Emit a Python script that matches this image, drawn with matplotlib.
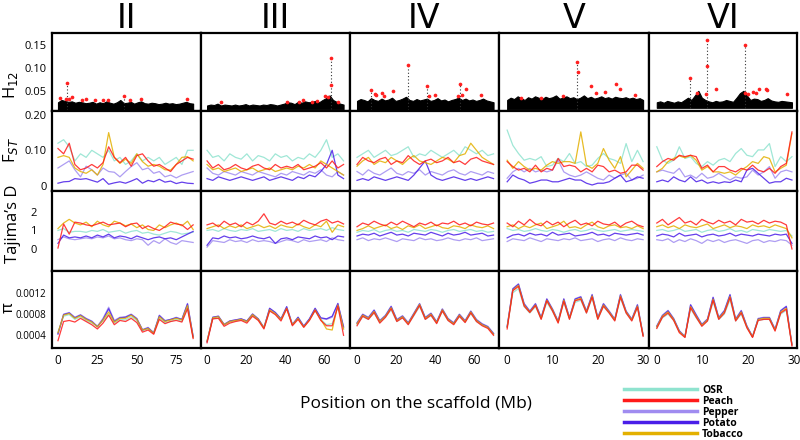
import numpy as np
import matplotlib
matplotlib.use("Agg")
import matplotlib.pyplot as plt
from matplotlib.lines import Line2D

plt.rcParams['font.family'] = ['Open Sans', 'DejaVu Sans']

chromosomes = ["II", "III", "IV", "V", "VI"]
scaffold_end = [86, 70, 70, 30, 29.5]
species = ["OSR", "Peach", "Pepper", "Potato", "Tobacco"]
colors = {"OSR": "#8fe3cf", "Peach": "#ff1a1a", "Pepper": "#a08cf0",
          "Potato": "#4a1ee8", "Tobacco": "#e3b000"}

# ---------------- H12 ----------------
h12_band_top_II = [0.025,0.03,0.028,0.026,0.027,0.024,0.026,0.025,0.023,0.024,0.026,0.022,0.025,0.023,0.027,0.024,0.022,0.025,0.03,0.023,0.024,0.026,0.022,0.025,0.027,0.023,0.022,0.024,0.023,0.021,0.022,0.024,0.022,0.023,0.021,0.022,0.024,0.026,0.023,0.022]
h12_band_top_III = [0.018,0.02,0.019,0.022,0.018,0.02,0.019,0.018,0.02,0.018,0.019,0.021,0.018,0.02,0.019,0.018,0.02,0.019,0.021,0.02,0.018,0.02,0.022,0.025,0.024,0.021,0.026,0.024,0.027,0.025,0.026,0.028,0.025,0.03,0.034,0.04,0.03,0.026,0.022,0.02]
h12_band_top_IV = [0.028,0.032,0.03,0.027,0.034,0.03,0.028,0.033,0.029,0.031,0.035,0.028,0.03,0.033,0.037,0.03,0.028,0.032,0.029,0.031,0.033,0.028,0.03,0.034,0.029,0.031,0.027,0.03,0.032,0.035,0.03,0.033,0.029,0.031,0.028,0.03,0.033,0.029,0.027,0.025]
h12_band_top_V = [0.03,0.035,0.032,0.038,0.034,0.03,0.036,0.033,0.038,0.035,0.032,0.037,0.034,0.036,0.04,0.033,0.035,0.038,0.034,0.036,0.032,0.035,0.04,0.034,0.037,0.033,0.035,0.038,0.034,0.036,0.033,0.037,0.035,0.034,0.036,0.033,0.035,0.032,0.034,0.03]
h12_band_top_VI = [0.025,0.027,0.024,0.028,0.026,0.024,0.027,0.025,0.03,0.035,0.03,0.04,0.05,0.035,0.03,0.027,0.025,0.028,0.026,0.027,0.03,0.028,0.026,0.035,0.045,0.05,0.04,0.03,0.033,0.032,0.028,0.03,0.034,0.029,0.027,0.026,0.028,0.027,0.026,0.025]
h12_band_low = [0.009, 0.010, 0.009, 0.010, 0.013]

h12_spike_pos = [[5.5, 42], [63.5], [7.2, 26.3, 36, 53], [15.5], [7.3, 11, 19.2]]
h12_spike_top = [[0.068, 0.038], [0.122], [0.052, 0.106, 0.061, 0.065], [0.113], [0.079, 0.161, 0.149]]

h12_red_pos_II = [1.3, 5.5, 5, 7, 9.2, 15, 17.8, 23.6, 28.5, 32, 42, 46, 52.7, 82.4]
h12_red_val_II = [0.034, 0.068, 0.032, 0.032, 0.036, 0.03, 0.033, 0.03, 0.029, 0.03, 0.038, 0.03, 0.032, 0.032]
h12_red_pos_III = [7, 41, 47, 49, 53.7, 56.4, 60.5, 62, 63.5, 63.8, 67]
h12_red_val_III = [0.026, 0.026, 0.025, 0.029, 0.026, 0.028, 0.038, 0.036, 0.063, 0.122, 0.026]
h12_red_pos_IV = [7.2, 9, 9.8, 12.8, 14, 18.5, 26.3, 36, 37, 40, 52, 53, 54, 56, 63.6]
h12_red_val_IV = [0.052, 0.042, 0.041, 0.046, 0.039, 0.05, 0.106, 0.061, 0.039, 0.041, 0.039, 0.065, 0.04, 0.054, 0.041]
h12_red_pos_V = [3, 7.5, 12.3, 15.5, 15.6, 18.5, 19.5, 21.7, 24, 25, 28.3]
h12_red_val_V = [0.034, 0.035, 0.038, 0.113, 0.091, 0.06, 0.045, 0.048, 0.065, 0.055, 0.04]
h12_red_pos_VI = [7.3, 8.7, 10.7, 11, 10.9, 13, 19.2, 19.3, 20, 21, 21.7, 22.4, 23.9, 24.1, 28.5]
h12_red_val_VI = [0.079, 0.046, 0.043, 0.104, 0.161, 0.054, 0.149, 0.046, 0.044, 0.047, 0.046, 0.053, 0.054, 0.051, 0.044]

# ---------------- FST ----------------
fst_II_osr = [0.12,0.13,0.11,0.07,0.09,0.08,0.10,0.09,0.08,0.10,0.07,0.08,0.06,0.07,0.09,0.07,0.08,0.07,0.08,0.06,0.07,0.08,0.06,0.10,0.10]
fst_II_peach = [0.105,0.09,0.12,0.06,0.045,0.05,0.06,0.05,0.065,0.11,0.08,0.065,0.08,0.055,0.085,0.09,0.07,0.055,0.06,0.05,0.04,0.06,0.07,0.08,0.075]
fst_II_pepper = [0.05,0.06,0.07,0.045,0.025,0.055,0.045,0.03,0.05,0.04,0.038,0.025,0.04,0.054,0.065,0.045,0.05,0.035,0.04,0.025,0.03,0.022,0.03,0.035,0.04]
fst_II_potato = [0.007,0.011,0.012,0.02,0.018,0.02,0.015,0.01,0.02,0.004,0.008,0.011,0.007,0.013,0.02,0.007,0.015,0.011,0.018,0.01,0.013,0.006,0.01,0.007,0.006]
fst_II_tobacco = [0.08,0.085,0.08,0.05,0.04,0.035,0.045,0.03,0.06,0.15,0.08,0.063,0.075,0.063,0.09,0.068,0.055,0.06,0.055,0.045,0.044,0.06,0.08,0.082,0.07]

fst_III_osr = [0.1,0.08,0.085,0.07,0.09,0.08,0.075,0.09,0.07,0.085,0.08,0.07,0.09,0.08,0.085,0.07,0.08,0.075,0.09,0.08,0.1,0.13,0.08,0.09,0.07]
fst_III_peach = [0.07,0.05,0.06,0.045,0.05,0.06,0.05,0.045,0.055,0.06,0.05,0.045,0.06,0.05,0.055,0.05,0.06,0.045,0.05,0.055,0.065,0.05,0.07,0.05,0.06]
fst_III_pepper = [0.05,0.035,0.03,0.04,0.035,0.03,0.04,0.035,0.03,0.04,0.035,0.03,0.025,0.035,0.03,0.04,0.035,0.03,0.04,0.035,0.045,0.03,0.025,0.04,0.03]
fst_III_potato = [0.02,0.015,0.025,0.02,0.015,0.02,0.025,0.02,0.015,0.02,0.025,0.015,0.02,0.025,0.02,0.015,0.025,0.02,0.03,0.025,0.04,0.06,0.1,0.03,0.02]
fst_III_tobacco = [0.06,0.045,0.05,0.04,0.045,0.05,0.04,0.045,0.05,0.04,0.045,0.05,0.04,0.045,0.05,0.045,0.055,0.05,0.06,0.05,0.07,0.06,0.05,0.04,0.03]

fst_IV_osr = [0.08,0.09,0.1,0.08,0.09,0.1,0.085,0.09,0.1,0.11,0.08,0.09,0.085,0.1,0.09,0.08,0.09,0.1,0.085,0.11,0.1,0.09,0.1,0.085,0.09]
fst_IV_peach = [0.06,0.08,0.07,0.065,0.075,0.08,0.06,0.07,0.065,0.085,0.07,0.06,0.07,0.075,0.065,0.07,0.08,0.065,0.07,0.06,0.075,0.08,0.07,0.065,0.06]
fst_IV_pepper = [0.04,0.03,0.045,0.035,0.03,0.04,0.05,0.035,0.03,0.04,0.035,0.045,0.03,0.04,0.035,0.03,0.04,0.045,0.035,0.03,0.04,0.035,0.03,0.04,0.035]
fst_IV_potato = [0.015,0.02,0.015,0.025,0.02,0.015,0.02,0.025,0.02,0.015,0.03,0.05,0.07,0.03,0.02,0.015,0.02,0.025,0.02,0.015,0.02,0.015,0.02,0.025,0.02]
fst_IV_tobacco = [0.055,0.07,0.08,0.06,0.07,0.065,0.08,0.07,0.06,0.075,0.085,0.07,0.065,0.06,0.07,0.08,0.075,0.065,0.085,0.09,0.12,0.1,0.08,0.07,0.06]

fst_V_osr = [0.157,0.114,0.091,0.072,0.077,0.072,0.082,0.054,0.058,0.077,0.068,0.091,0.063,0.068,0.054,0.058,0.077,0.091,0.077,0.072,0.063,0.119,0.068,0.1,0.068]
fst_V_peach = [0.068,0.054,0.044,0.049,0.039,0.058,0.039,0.049,0.044,0.077,0.054,0.058,0.054,0.039,0.049,0.039,0.058,0.054,0.039,0.044,0.035,0.039,0.058,0.058,0.044]
fst_V_pepper = [0.021,0.039,0.049,0.039,0.049,0.039,0.044,0.039,0.044,0.072,0.039,0.03,0.025,0.03,0.039,0.03,0.021,0.016,0.03,0.021,0.03,0.035,0.016,0.021,0.03]
fst_V_potato = [0.011,0.03,0.021,0.016,0.007,0.011,0.016,0.016,0.011,0.011,0.016,0.021,0.016,0.016,0.007,0.002,0.007,0.007,0.011,0.021,0.03,0.011,0.016,0.025,0.021]
fst_V_tobacco = [0.072,0.049,0.068,0.054,0.044,0.049,0.044,0.058,0.068,0.063,0.068,0.068,0.063,0.152,0.058,0.049,0.063,0.105,0.072,0.049,0.082,0.025,0.044,0.063,0.049]

fst_VI_osr = [0.11,0.072,0.063,0.072,0.11,0.077,0.082,0.063,0.054,0.068,0.058,0.072,0.077,0.068,0.091,0.105,0.086,0.082,0.101,0.101,0.119,0.054,0.082,0.068,0.082]
fst_VI_peach = [0.054,0.068,0.077,0.072,0.086,0.082,0.086,0.082,0.049,0.058,0.039,0.054,0.054,0.044,0.039,0.049,0.044,0.058,0.044,0.039,0.049,0.035,0.054,0.063,0.152]
fst_VI_pepper = [0.039,0.044,0.039,0.035,0.049,0.025,0.03,0.021,0.035,0.021,0.025,0.035,0.025,0.016,0.025,0.021,0.025,0.044,0.03,0.039,0.054,0.021,0.039,0.044,0.039]
fst_VI_potato = [0.011,0.016,0.011,0.025,0.016,0.011,0.025,0.011,0.016,0.007,0.011,0.007,0.011,0.009,0.016,0.011,0.044,0.049,0.035,0.021,0.007,0.011,0.011,0.021,0.016]
fst_VI_tobacco = [0.039,0.049,0.068,0.077,0.084,0.079,0.086,0.072,0.044,0.054,0.039,0.039,0.035,0.039,0.03,0.044,0.054,0.068,0.063,0.082,0.077,0.039,0.049,0.058,0.148]

# ---------------- Tajima's D ----------------
taj_II_osr = [1.0,1.1,0.9,0.95,0.95,0.9,1.0,0.95,1.05,0.9,0.95,1.0,0.85,0.95,1.0,0.85,0.9,0.8,0.75,0.85,0.95,0.9,0.8,0.85,0.9]
taj_II_peach = [0.05,1.35,0.8,1.45,1.4,1.3,1.25,1.35,1.45,1.3,1.35,1.4,1.2,1.35,1.4,1.1,1.25,1.1,1.0,1.2,1.45,1.35,1.3,1.05,1.3]
taj_II_pepper = [0.5,0.65,0.55,0.5,0.55,0.6,0.55,0.65,0.6,0.7,0.55,0.6,0.5,0.45,0.55,0.5,0.2,0.45,0.3,0.55,0.35,0.25,0.45,0.4,0.35]
taj_II_potato = [0.3,0.75,0.6,0.65,0.6,0.7,0.6,0.75,0.65,0.8,0.6,0.7,0.65,0.55,0.7,0.6,0.5,0.6,0.65,0.55,0.6,0.5,0.65,0.8,0.95]
taj_II_tobacco = [1.1,1.4,1.6,1.4,1.3,1.45,1.2,1.5,1.3,1.2,1.5,1.4,1.25,1.35,1.15,1.3,1.05,1.0,1.3,1.15,1.3,1.4,1.25,1.5,1.05]

taj_III_osr = [1.0,1.05,0.95,1.1,1.0,0.95,1.05,1.0,1.1,0.95,1.0,1.05,0.95,1.1,1.0,1.05,0.95,1.1,1.0,1.05,1.1,1.0,1.15,1.05,1.0]
taj_III_peach = [1.3,1.4,1.2,1.5,1.3,1.4,1.2,1.45,1.3,1.5,1.9,1.4,1.3,1.5,1.35,1.45,1.3,1.55,1.4,1.3,1.5,1.6,1.4,1.5,1.35]
taj_III_pepper = [0.1,0.45,0.4,0.35,0.5,0.4,0.45,0.35,0.5,0.4,0.45,0.4,0.3,0.4,0.5,0.45,0.35,0.5,0.4,0.45,0.5,0.4,0.6,0.5,0.45]
taj_III_potato = [0.2,0.6,0.55,0.7,0.6,0.65,0.55,0.6,0.7,0.6,0.55,0.65,0.3,0.55,0.6,0.5,0.65,0.6,0.55,0.7,0.6,0.65,0.5,0.7,0.65]
taj_III_tobacco = [1.1,1.2,1.3,1.1,1.25,1.15,1.3,1.1,1.2,1.3,1.15,1.25,1.1,1.3,1.2,1.15,1.35,1.2,1.1,1.3,1.2,1.5,0.9,1.3,1.2]

taj_IV_osr = [0.9,1.0,0.95,1.05,0.9,1.0,1.05,0.95,1.0,0.9,1.05,1.0,0.95,1.05,1.0,0.9,1.0,1.05,0.95,1.0,1.05,0.95,1.0,0.9,0.95]
taj_IV_peach = [1.2,1.4,1.3,1.5,1.35,1.25,1.45,1.3,1.5,1.35,1.2,1.4,1.3,1.45,1.25,1.4,1.35,1.5,1.3,1.4,1.25,1.45,1.35,1.3,1.4]
taj_IV_pepper = [0.5,0.6,0.45,0.55,0.5,0.6,0.5,0.4,0.55,0.5,0.45,0.6,0.5,0.55,0.45,0.5,0.6,0.5,0.45,0.55,0.5,0.6,0.45,0.5,0.55]
taj_IV_potato = [0.7,0.8,0.75,0.85,0.7,0.8,0.9,0.75,0.8,0.7,0.85,0.8,0.75,0.9,0.8,0.7,0.85,0.75,0.8,0.9,0.75,0.8,0.85,0.7,0.75]
taj_IV_tobacco = [1.0,1.1,1.25,1.1,1.2,1.3,1.1,1.2,1.05,1.25,1.15,1.3,1.1,1.2,1.3,1.15,1.1,1.25,1.2,1.1,1.3,1.2,1.15,1.25,1.1]

taj_V_osr = [1.1,1.0,1.05,0.95,1.0,1.1,1.0,0.95,1.05,1.0,0.9,1.0,1.05,0.95,1.0,1.1,1.0,0.95,1.0,1.05,0.95,1.0,1.05,1.0,0.95]
taj_V_peach = [1.4,1.2,1.5,1.3,1.6,1.35,1.25,1.5,1.3,1.45,1.2,1.4,1.55,1.3,1.4,1.25,1.5,1.35,1.3,1.45,1.2,1.4,1.5,1.3,1.2]
taj_V_pepper = [0.4,0.55,0.5,0.45,0.6,0.5,0.4,0.55,0.5,0.45,0.55,0.5,0.6,0.45,0.5,0.55,0.4,0.5,0.55,0.45,0.6,0.5,0.45,0.55,0.5]
taj_V_potato = [0.6,0.75,0.8,0.7,0.85,0.75,0.8,0.7,0.9,0.75,0.8,0.85,0.7,0.75,0.8,0.9,0.75,0.8,0.7,0.85,0.8,0.75,0.8,0.85,0.75]
taj_V_tobacco = [1.2,1.3,1.1,1.25,1.15,1.3,1.4,1.1,1.2,1.3,1.5,1.15,1.2,1.1,1.3,1.45,1.2,1.1,1.25,1.3,1.15,1.2,1.1,1.25,1.1]

taj_VI_osr = [1.0,1.05,0.95,1.0,1.1,0.95,1.0,1.05,0.9,1.0,1.05,0.95,1.0,1.1,0.95,1.0,0.9,1.05,1.0,0.95,1.05,1.0,0.95,1.0,0.7]
taj_VI_peach = [1.4,1.6,1.3,1.5,1.7,1.4,1.5,1.3,1.6,1.45,1.35,1.55,1.4,1.5,1.3,1.6,1.45,1.5,1.35,1.55,1.4,1.5,1.45,1.3,0.0]
taj_VI_pepper = [0.5,0.45,0.55,0.35,0.5,0.4,0.55,0.45,0.3,0.5,0.4,0.5,0.35,0.45,0.5,0.4,0.3,0.45,0.5,0.35,0.45,0.4,0.5,0.45,0.2]
taj_VI_potato = [0.7,0.8,0.75,0.65,0.85,0.7,0.75,0.8,0.65,0.75,0.8,0.7,0.75,0.85,0.7,0.8,0.75,0.7,0.8,0.75,0.7,0.8,0.75,0.8,0.3]
taj_VI_tobacco = [1.2,1.3,1.15,1.25,1.1,1.3,1.2,1.15,1.25,1.35,1.1,1.2,1.3,1.15,1.25,1.2,1.1,1.3,1.2,1.25,1.15,1.3,1.2,1.1,0.6]

# ---------------- nucleotide diversity (pi) ----------------
pi_II_osr = [0.00046,0.00076,0.00079,0.0007,0.00075,0.00068,0.00063,0.00058,0.00067,0.0008,0.00063,0.0007,0.00069,0.00075,0.00068,0.00049,0.00052,0.00046,0.00073,0.00064,0.00066,0.0007,0.00066,0.00092,0.00039]
pi_II_peach = [0.0003,0.00066,0.00068,0.00065,0.00072,0.00066,0.0006,0.00052,0.00063,0.00078,0.0006,0.00068,0.00066,0.00072,0.00064,0.00046,0.0005,0.00042,0.0007,0.00062,0.00066,0.00068,0.00065,0.0009,0.00034]
pi_II_pepper = [0.00042,0.0008,0.00083,0.00074,0.00079,0.00072,0.00067,0.00057,0.00072,0.00093,0.00068,0.00074,0.00075,0.0008,0.00072,0.00051,0.00055,0.00045,0.00078,0.00068,0.0007,0.00074,0.0007,0.001,0.00038]
pi_II_potato = [0.00043,0.00079,0.00082,0.00073,0.00078,0.00071,0.00066,0.00056,0.0007,0.0009,0.00066,0.00073,0.00074,0.00079,0.00071,0.0005,0.00054,0.00044,0.00077,0.00067,0.0007,0.00073,0.0007,0.00099,0.00037]
pi_II_tobacco = [0.00045,0.00078,0.00081,0.00072,0.00077,0.0007,0.00065,0.00056,0.00069,0.00084,0.00065,0.00072,0.00072,0.00078,0.0007,0.0005,0.00053,0.00044,0.00075,0.00066,0.00069,0.00072,0.00069,0.00096,0.00036]

pi_III_osr = [0.0003,0.00071,0.00073,0.00061,0.00065,0.00067,0.00069,0.00065,0.00077,0.00069,0.00055,0.00086,0.0008,0.00069,0.0009,0.0006,0.00071,0.00057,0.00069,0.00086,0.0007,0.0006,0.00062,0.00094,0.00052]
pi_III_peach = [0.00026,0.00071,0.00072,0.00057,0.00063,0.00066,0.00068,0.00063,0.00076,0.00068,0.00052,0.00086,0.00079,0.00067,0.0009,0.00058,0.0007,0.00055,0.00068,0.00087,0.00068,0.00058,0.00058,0.00095,0.0004]
pi_III_pepper = [0.00028,0.00074,0.00076,0.00061,0.00067,0.00069,0.00071,0.00067,0.0008,0.00071,0.00055,0.0009,0.00083,0.00071,0.00093,0.00061,0.00074,0.00058,0.00071,0.0009,0.00072,0.0007,0.00074,0.00099,0.00055]
pi_III_potato = [0.00028,0.00074,0.00076,0.0006,0.00067,0.00069,0.00071,0.00067,0.0008,0.00071,0.00054,0.00091,0.00083,0.00071,0.00094,0.0006,0.00074,0.00057,0.00071,0.00091,0.00073,0.00071,0.00076,0.001,0.00056]
pi_III_tobacco = [0.00029,0.00073,0.00075,0.0006,0.00066,0.00068,0.0007,0.00066,0.00079,0.0007,0.00054,0.00088,0.00081,0.0007,0.00091,0.0006,0.00072,0.00056,0.00069,0.00088,0.0007,0.00052,0.0005,0.00097,0.00052]

pi_IV_osr = [0.0006,0.00075,0.0007,0.00082,0.00064,0.00074,0.00088,0.00066,0.00073,0.00061,0.00077,0.00094,0.0007,0.00077,0.00063,0.00085,0.00068,0.00061,0.00075,0.00065,0.00081,0.00066,0.00059,0.00054,0.00043]
pi_IV_peach = [0.00058,0.00076,0.0007,0.00083,0.00063,0.00074,0.0009,0.00066,0.00073,0.0006,0.00078,0.00096,0.0007,0.00078,0.00062,0.00086,0.00068,0.0006,0.00076,0.00064,0.00082,0.00066,0.00058,0.00053,0.0004]
pi_IV_pepper = [0.00064,0.0008,0.00074,0.00088,0.00068,0.00078,0.00095,0.0007,0.00077,0.00064,0.00082,0.001,0.00074,0.00082,0.00066,0.0009,0.00072,0.00064,0.0008,0.00068,0.00086,0.0007,0.00062,0.00057,0.00044]
pi_IV_potato = [0.00063,0.00079,0.00073,0.00087,0.00067,0.00077,0.00094,0.00069,0.00076,0.00063,0.00081,0.00099,0.00073,0.00081,0.00065,0.00089,0.00071,0.00063,0.00079,0.00067,0.00085,0.00069,0.00061,0.00056,0.00043]
pi_IV_tobacco = [0.00062,0.00078,0.00072,0.00085,0.00066,0.00076,0.00092,0.00068,0.00075,0.00062,0.0008,0.00098,0.00072,0.0008,0.00064,0.00088,0.0007,0.00062,0.00078,0.00066,0.00084,0.00068,0.0006,0.00055,0.00042]

pi_V_osr = [0.00056,0.0012,0.00128,0.00094,0.00082,0.00094,0.00071,0.00102,0.00085,0.00065,0.00102,0.00071,0.00102,0.00106,0.00082,0.0011,0.00071,0.00094,0.00082,0.00068,0.0011,0.00082,0.00068,0.00092,0.00041]
pi_V_peach = [0.00052,0.00124,0.00132,0.00095,0.00083,0.00096,0.0007,0.00105,0.00086,0.00063,0.00104,0.0007,0.00105,0.00108,0.00082,0.00112,0.0007,0.00095,0.00082,0.00067,0.00112,0.00082,0.00067,0.00093,0.00038]
pi_V_pepper = [0.00057,0.00128,0.00137,0.001,0.00086,0.001,0.00074,0.00109,0.0009,0.00067,0.00109,0.00074,0.00109,0.00113,0.00086,0.00117,0.00074,0.001,0.00086,0.00071,0.00117,0.00086,0.00071,0.00098,0.00041]
pi_V_potato = [0.00056,0.00127,0.00136,0.00099,0.00085,0.00099,0.00073,0.00108,0.00089,0.00066,0.00108,0.00073,0.00108,0.00112,0.00085,0.00116,0.00073,0.00099,0.00085,0.0007,0.00116,0.00085,0.0007,0.00097,0.0004]
pi_V_tobacco = [0.00055,0.00125,0.00134,0.00097,0.00084,0.00097,0.00072,0.00106,0.00088,0.00065,0.00106,0.00072,0.00106,0.0011,0.00084,0.00114,0.00072,0.00097,0.00084,0.00069,0.00114,0.00084,0.00069,0.00095,0.0004]

pi_VI_osr = [0.00054,0.00073,0.0008,0.00068,0.00047,0.00039,0.0009,0.00073,0.00058,0.00067,0.00103,0.0007,0.0008,0.00107,0.00067,0.0008,0.00055,0.00039,0.00068,0.0007,0.0007,0.0005,0.0008,0.00087,0.00024]
pi_VI_peach = [0.00053,0.00074,0.00082,0.00068,0.00045,0.00036,0.00092,0.00074,0.00057,0.00067,0.00106,0.0007,0.00082,0.00111,0.00067,0.00082,0.00054,0.00036,0.00068,0.0007,0.0007,0.00048,0.00082,0.00089,0.0002]
pi_VI_pepper = [0.00058,0.00078,0.00087,0.00072,0.00049,0.00038,0.00098,0.00079,0.00061,0.00071,0.00112,0.00074,0.00087,0.00117,0.00071,0.00087,0.00058,0.00038,0.00072,0.00074,0.00074,0.00052,0.00087,0.00095,0.00023]
pi_VI_potato = [0.00057,0.00077,0.00086,0.00071,0.00048,0.00037,0.00097,0.00078,0.0006,0.0007,0.00111,0.00073,0.00086,0.00116,0.0007,0.00086,0.00057,0.00037,0.00071,0.00073,0.00073,0.00051,0.00086,0.00094,0.00022]
pi_VI_tobacco = [0.00056,0.00076,0.00084,0.0007,0.00047,0.00037,0.00094,0.00076,0.00059,0.00069,0.00108,0.00072,0.00084,0.00113,0.00069,0.00084,0.00056,0.00037,0.0007,0.00072,0.00072,0.0005,0.00084,0.00091,0.00022]

h12_tops = [h12_band_top_II, h12_band_top_III, h12_band_top_IV, h12_band_top_V, h12_band_top_VI]
h12_reds = [(h12_red_pos_II, h12_red_val_II), (h12_red_pos_III, h12_red_val_III),
            (h12_red_pos_IV, h12_red_val_IV), (h12_red_pos_V, h12_red_val_V),
            (h12_red_pos_VI, h12_red_val_VI)]
g = globals()

# layout in pixels (figure 800 x 440)
col_edges = [52, 201, 350, 499, 649, 797]
row_edges = [33, 111, 191, 271, 348]
xlims = [(-3.8, 91), (-3.1, 73.3), (-3.6, 72.8), (-1.8, 31.3), (-1.7, 30.6)]
ylims = [(0.006, 0.176), (-0.015, 0.211), (-1.19, 3.13), (0.000162, 0.00161)]
xticks = [[0, 25, 50, 75], [0, 20, 40, 60], [0, 20, 40, 60], [0, 10, 20, 30], [0, 10, 20, 30]]
yticks = [[0.05, 0.10, 0.15], [0, 0.10, 0.20], [0, 1, 2], [0.0004, 0.0008, 0.0012]]
ytlabels = [["0.05", "0.10", "0.15"], ["0", "0.10", "0.20"], ["0", "1", "2"],
            ["0.0004", "0.0008", "0.0012"]]
ytsize = [8, 8, 8, 7]
ytpad = [4, 4, 11, 4]
ylabels = ["H$_{12}$", "F$_{ST}$", "Tajima\u2019s D", "\u03c0"]
ylabel_xy = [(11, 85), (11, 150), (13, 224), (9, 308)]
draw_order = ["OSR", "Pepper", "Potato", "Tobacco", "Peach"]

W, H = 800, 440
fig = plt.figure(figsize=(8, 4.4), dpi=100)

for c, chrom in enumerate(chromosomes):
    xs = np.linspace(0, scaffold_end[c], 25)
    xh = np.linspace(0, scaffold_end[c], 40)
    for r in range(4):
        x0, x1 = col_edges[c], col_edges[c + 1]
        y0, y1 = row_edges[r], row_edges[r + 1]
        ax = fig.add_axes([x0 / W, 1 - y1 / H, (x1 - x0) / W, (y1 - y0) / H])
        if r == 0:
            ax.fill_between(xh, h12_band_low[c], h12_tops[c], color="black", lw=0.8)
            ax.vlines(h12_spike_pos[c], h12_band_low[c], h12_spike_top[c],
                      color="#333333", lw=0.8, linestyles=(0, (1, 2)))
            ax.scatter(h12_reds[c][0], h12_reds[c][1], s=7, color="#ff2020",
                       zorder=3, lw=0)
        else:
            prefix = ["", "fst", "taj", "pi"][r]
            for sp in draw_order:
                vals = g[f"{prefix}_{chrom}_{sp.lower()}"]
                ax.plot(xs, vals, color=colors[sp], lw=0.9, alpha=0.85)
        ax.set_xlim(*xlims[c])
        ax.set_ylim(*ylims[r])
        for s in ax.spines.values():
            s.set_linewidth(1.6)
        ax.tick_params(length=0)
        if c == 0:
            ax.set_yticks(yticks[r])
            ax.set_yticklabels(ytlabels[r], fontsize=ytsize[r])
            ax.tick_params(axis="y", pad=ytpad[r])
        else:
            ax.set_yticks([])
        if r == 3:
            ax.set_xticks(xticks[c])
            ax.set_xticklabels([str(t) for t in xticks[c]], fontsize=8.5)
            ax.tick_params(axis="x", pad=4)
        else:
            ax.set_xticks([])
    fig.text((col_edges[c] + col_edges[c + 1]) / 2 / W, 1 - 18 / H, chrom,
             ha="center", va="center", fontsize=24, family="Liberation Sans Narrow")

for lab, (lx, ly) in zip(ylabels, ylabel_xy):
    fig.text(lx / W, 1 - ly / H, lab, rotation=90, ha="center", va="center",
             fontsize=12)

fig.text(416 / W, 1 - 403 / H, "Position on the scaffold (Mb)", ha="center",
         va="center", fontsize=12.5)

handles = [Line2D([], [], color=colors[s], lw=2.5) for s in species]
fig.legend(handles, species, loc="upper left", bbox_to_anchor=(624 / W, 1 - 385 / H),
           frameon=False, handlelength=7, handletextpad=0.5, labelspacing=0.0,
           prop={"size": 7.5, "weight": "bold"}, borderpad=0, borderaxespad=0)

fig.savefig("out.png", dpi=100)
